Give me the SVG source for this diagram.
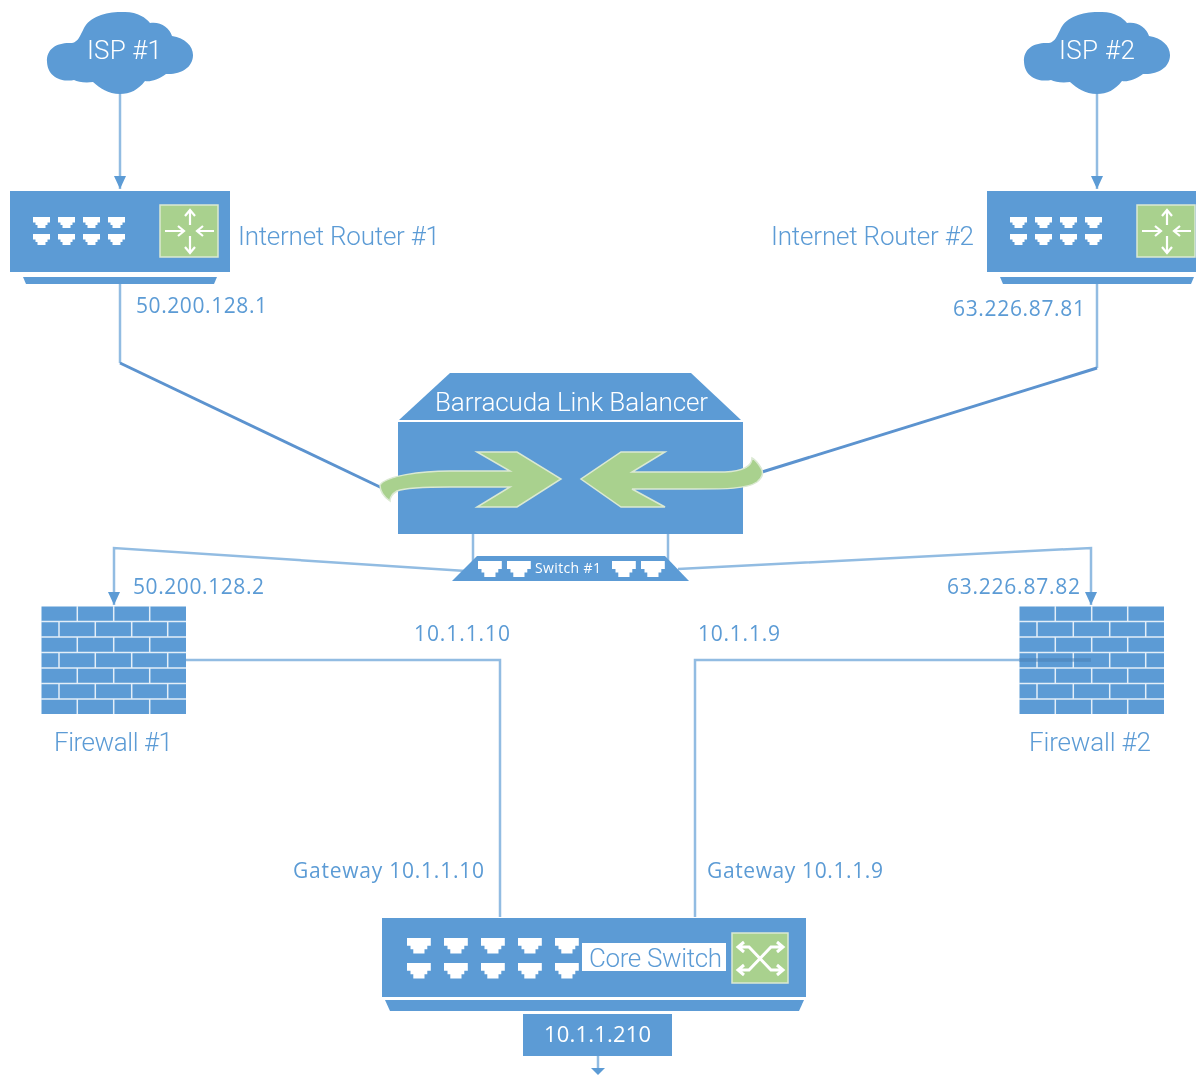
<svg xmlns="http://www.w3.org/2000/svg" width="1196" height="1075" viewBox="0 0 1196 1075">
<style>
text{font-family:"Open Sans","Noto Sans","Liberation Sans",sans-serif;font-weight:400}
.b{fill:#5b9bd5}
.g{fill:#a9d18e;stroke:#dbe9d2;stroke-width:1.5}
.t{fill:#a9d18e}
.lbl{fill:#5b9bd5;font-size:21px}
.nm{fill:#5b9bd5;font-size:26px;font-weight:300;font-family:Roboto,"Open Sans",sans-serif}
.w{fill:#fff;font-size:26px;font-weight:300;font-family:Roboto,"Open Sans",sans-serif}
.c{fill:none;stroke:#92bce2;stroke-width:2.5}
.d{fill:none;stroke:#5b93cf;stroke-width:3}
.ic{fill:none;stroke:#fff;stroke-width:2.2}
.br{stroke:#e3eef8;stroke-width:1.5;fill:none}
.p{fill:#fff}
</style>
<defs>
<filter id="soft" x="0" y="0" width="100%" height="100%"><feGaussianBlur stdDeviation="0.45"/></filter>
<marker id="ah" markerWidth="13" markerHeight="12" refX="13" refY="6" orient="auto" markerUnits="userSpaceOnUse" viewBox="0 0 13 12"><path d="M0 0L13 6L0 12Z" fill="#5b9bd5"/></marker>
<path id="port" d="M0 0H17V5.500H14.500V8H12.500V11H4.500V8H2.500V5.500H0Z"/>
<path id="cloud" d="M120 94C108 94 100 88 93 82C85 83 78 82 74 80C66 82 48 80 47 62C46 48 58 42 72 43C78 42 80 36 84 28C90 16 108 11 125 12C138 12 146 18 150 23C160 21 170 28 172 36C185 38 193 46 193 55C193 68 180 75 166 74C158 80 150 82 145 81C138 90 130 94 120 94Z"/>
<g id="router">
<rect class="b" x="10" y="191" width="220" height="81"/>
<path class="b" d="M23 277H217L214 284H26Z"/>
<g class="p">
<use href="#port" x="33" y="217"/><use href="#port" x="58" y="217"/><use href="#port" x="83" y="217"/><use href="#port" x="108" y="217"/>
<use href="#port" x="33" y="234"/><use href="#port" x="58" y="234"/><use href="#port" x="83" y="234"/><use href="#port" x="108" y="234"/>
</g>
<rect class="g" x="160" y="205" width="58" height="52"/>
<path class="ic" d="M190 225V211M185 216L190 210L195 216M190 236V252M185 247L190 253L195 247M165 231H183M178 226L184 231L178 236M214 231H198M203 226L197 231L203 236"/>
</g>
<g id="wall">
<rect class="b" x="41.500" y="606.500" width="144.500" height="107.500"/>
<path class="br" d="M41 621.500H186M41 637H186M41 652.500H186M41 668H186M41 683.500H186M41 699H186M77.300 606V621.500M113.700 606V621.500M149.700 606V621.500M59 621.500V637M95.300 621.500V637M131.700 621.500V637M167.700 621.500V637M77.300 637V652.500M113.700 637V652.500M149.700 637V652.500M59 652.500V668M95.300 652.500V668M131.700 652.500V668M167.700 652.500V668M77.300 668V683.500M113.700 668V683.500M149.700 668V683.500M59 683.500V699M95.300 683.500V699M131.700 683.500V699M167.700 683.500V699M77.300 699V714M113.700 699V714M149.700 699V714"/>
</g>
</defs>
<g filter="url(#soft)">
<g id="connectors">
<path class="c" d="M120 94V189" marker-end="url(#ah)"/>
<path class="c" d="M1097 94V189" marker-end="url(#ah)"/>
<path class="c" d="M120 284V363"/>
<path class="d" d="M120 363L382 488"/>
<path class="c" d="M1097 284V368"/>
<path class="d" d="M1097 368L762 472"/>
<path class="c" d="M473 534V565M668 534V565"/>
<path class="c" d="M466 571L114 548V605" marker-end="url(#ah)"/>
<path class="c" d="M678 569L1091 548V605" marker-end="url(#ah)"/>
<path class="c" d="M186 660H500V917"/>
<path class="c" d="M1019 660H695V917"/>
<path class="c" d="M598 1056V1070"/>
<path d="M591 1068H605L598 1075Z" fill="#5b9bd5"/>
</g>

<g id="isp1"><use href="#cloud" class="b"/><text class="w" x="87" y="59" textLength="75">ISP #1</text></g>
<g id="isp2"><use href="#cloud" class="b" x="977"/><text class="w" x="1059" y="59" textLength="76">ISP #2</text></g>

<g id="router1"><use href="#router"/><text class="nm" x="238" y="245" textLength="202">Internet Router #1</text><text class="lbl" x="136" y="313" textLength="131">50.200.128.1</text></g>
<g id="router2"><use href="#router" x="977"/><text class="nm" x="771" y="245" textLength="203">Internet Router #2</text><text class="lbl" x="953" y="316" textLength="132">63.226.87.81</text></g>

<g id="balancer">
<path class="b" d="M450 373H691L741 420H399Z"/>
<rect class="b" x="398" y="422" width="345" height="112"/>
<text class="w" x="435" y="411" textLength="273">Barracuda Link Balancer</text>
<path class="g" d="M477 452H517L561 479L517 507H477L510 487H450C425 487 405 488 397 491C392 494 390 497 390 501C384 497 380 491 380 485C386 476 420 471 450 471H510Z"/>
<path class="g" d="M665 452H621L581 479L621 507H665L632 489H695C725 489 747 489 757 482C762 478 764 473 761 468C758 463 756 460 752 458C752 466 745 471 725 472H632Z"/>
</g>

<g id="switch1">
<path class="b" d="M477 556H665L689 581H452Z"/>
<g class="p" transform="translate(478 561) scale(1.4 1.45)"><use href="#port"/></g>
<g class="p" transform="translate(507 561) scale(1.4 1.45)"><use href="#port"/></g>
<g class="p" transform="translate(612 561) scale(1.4 1.45)"><use href="#port"/></g>
<g class="p" transform="translate(641 561) scale(1.4 1.45)"><use href="#port"/></g>
<text x="535" y="573" fill="#fff" font-size="14" textLength="66">Switch #1</text>
</g>

<g id="firewall1"><use href="#wall"/><text class="nm" x="54" y="751" textLength="119">Firewall #1</text><text class="lbl" x="133" y="594" textLength="131">50.200.128.2</text><text class="lbl" x="414" y="641" textLength="96">10.1.1.10</text></g>
<g id="firewall2"><use href="#wall" x="978"/><path d="M1019 660H1091" fill="none" stroke="#4a80b5" stroke-width="3.500" opacity=".55"/><text class="nm" x="1029" y="751" textLength="122">Firewall #2</text><text class="lbl" x="947" y="594" textLength="133">63.226.87.82</text><text class="lbl" x="698" y="641" textLength="82">10.1.1.9</text></g>

<g id="coreswitch">
<rect class="b" x="382" y="918" width="424" height="79"/>
<path class="b" d="M385 1000H804L799 1011H390Z"/>
<g class="p">
<g transform="translate(407 938) scale(1.4 1.4)"><use href="#port"/></g><g transform="translate(444 938) scale(1.4 1.4)"><use href="#port"/></g><g transform="translate(481 938) scale(1.4 1.4)"><use href="#port"/></g><g transform="translate(518 938) scale(1.4 1.4)"><use href="#port"/></g><g transform="translate(555 938) scale(1.4 1.4)"><use href="#port"/></g>
<g transform="translate(407 963) scale(1.4 1.4)"><use href="#port"/></g><g transform="translate(444 963) scale(1.4 1.4)"><use href="#port"/></g><g transform="translate(481 963) scale(1.4 1.4)"><use href="#port"/></g><g transform="translate(518 963) scale(1.4 1.4)"><use href="#port"/></g><g transform="translate(555 963) scale(1.4 1.4)"><use href="#port"/></g>
</g>
<rect x="582" y="943" width="144" height="28" fill="#fff"/>
<text class="nm" x="589" y="967" textLength="133">Core Switch</text>
<rect class="g" x="732" y="933" width="56" height="50"/>
<path class="ic" style="stroke-width:3" d="M739 947H749L771 970H782M739 970H749L771 947H782M744 942L738 947L744 952M744 965L738 970L744 975M777 942L783 947L777 952M777 965L783 970L777 975"/>
<rect class="b" x="523" y="1014" width="149" height="42"/>
<text x="544" y="1042" fill="#fff" font-size="22" textLength="107">10.1.1.210</text>
</g>

<g id="gateways"><text class="lbl" x="293" y="878" textLength="191">Gateway 10.1.1.10</text><text class="lbl" x="707" y="878" textLength="176">Gateway 10.1.1.9</text></g>
</g>
</svg>
